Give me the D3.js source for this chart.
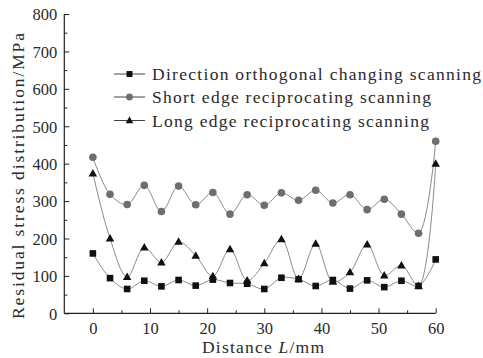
<!DOCTYPE html>
<html>
<head>
<meta charset="utf-8">
<script src="https://cdn.jsdelivr.net/npm/d3@7"></script>
<style>
html,body{margin:0;padding:0;background:#fff;}
svg{display:block;}
</style>
</head>
<body>
<svg id="chart" width="483" height="358" font-family="Liberation Serif"></svg>
<script>
const distance = [0,3,6,9,12,15,18,21,24,27,30,33,36,39,42,45,48,51,54,57,60];
const directionOrthogonal = [160,94,65,87,72,89,74,90,81,79,65,95,91,73,89,66,88,70,87,73,144];
const shortEdge = [417,318,291,342,272,340,290,323,265,317,289,322,302,329,295,317,277,305,265,214,460];
const longEdge = [374,200,97,176,136,191,154,99,171,88,134,198,92,186,84,110,184,101,128,73,400];
const seriesNames = ["Direction orthogonal changing scanning","Short edge reciprocating scanning","Long edge reciprocating scanning"];
const xTicks = [0,10,20,30,40,50,60];
const yTicks = [0,100,200,300,400,500,600,700,800];

const FONT = "Liberation Serif";
const TXT = "#2a2a2a";
const svg = d3.select("#chart");
const x = d3.scaleLinear().domain([-5,60]).range([64.3,435.7]);
const y = d3.scaleLinear().domain([0,800]).range([313.3,14]);

const lineColor = "#8a8a8a";
const series = [
  {name:seriesNames[1], values:shortEdge, shape:"circle", fill:"#6e6e6e"},
  {name:seriesNames[0], values:directionOrthogonal, shape:"square", fill:"#111"},
  {name:seriesNames[2], values:longEdge, shape:"triangle", fill:"#111"}
];

// axes
const xAxis = d3.axisBottom(x).tickValues(xTicks).tickSize(-5).tickPadding(9).tickFormat(d3.format("d"));
const xMinor = d3.axisBottom(x).tickValues([5,15,25,35,45,55]).tickSize(-3).tickFormat("");
const yAxis = d3.axisLeft(y).tickValues(yTicks).tickSize(-5).tickPadding(7).tickFormat(d3.format("d"));
const yMinor = d3.axisLeft(y).tickValues([50,150,250,350,450,550,650,750]).tickSize(-3).tickFormat("");

function styleAxis(g){
  g.attr("font-family",FONT).attr("font-size",16.5);
  g.select(".domain").attr("stroke","#222").attr("stroke-width",1.2);
  g.selectAll(".tick line").attr("stroke","#222").attr("stroke-width",1);
  g.selectAll(".tick text").attr("fill",TXT).attr("font-family",FONT).attr("font-size",16.5);
}
const gx = svg.append("g").attr("transform",`translate(0,${y(0)})`).call(xAxis);
gx.select(".domain").attr("d",`M${x(-5)},0H${x(60)}`);
styleAxis(gx);
const gxm = svg.append("g").attr("transform",`translate(0,${y(0)})`).call(xMinor);
gxm.select(".domain").remove();
styleAxis(gxm);
const gy = svg.append("g").attr("transform",`translate(${x(-5)},0)`).call(yAxis);
gy.select(".domain").attr("d",`M0,${y(800)}V${y(0)}`);
styleAxis(gy);
gy.selectAll(".tick text").attr("dy","0.35em");
const gym = svg.append("g").attr("transform",`translate(${x(-5)},0)`).call(yMinor);
gym.select(".domain").remove();
styleAxis(gym);

// titles
svg.append("text").attr("x",263).attr("y",353).attr("text-anchor","middle")
  .attr("textLength",122).attr("lengthAdjust","spacing")
  .attr("font-family",FONT).attr("font-size",17.5).attr("fill",TXT)
  .html('Distance <tspan font-style="italic">L</tspan>/mm');
svg.append("text").attr("transform","translate(24,176) rotate(-90)").attr("text-anchor","middle")
  .attr("textLength",286).attr("lengthAdjust","spacing")
  .attr("font-family",FONT).attr("font-size",17.5).attr("fill",TXT)
  .text("Residual stress distribution/MPa");

// lines
const line = d3.line().x((d,i)=>x(distance[i])).y(d=>y(d)).curve(d3.curveCatmullRom.alpha(0.5));
series.forEach(s=>{
  svg.append("path").attr("d",line(s.values)).attr("fill","none").attr("stroke",lineColor).attr("stroke-width",1);
});

function drawMarker(g, shape, cx, cy, fill, scale){
  scale = scale||1;
  if(shape==="circle"){
    g.append("circle").attr("cx",cx).attr("cy",cy).attr("r",3.8*scale).attr("fill",fill);
  } else if(shape==="square"){
    const s=6.6*scale;
    g.append("rect").attr("x",cx-s/2).attr("y",cy-s/2).attr("width",s).attr("height",s).attr("fill",fill);
  } else {
    const w=8.5*scale, h=7.5*scale;
    g.append("path").attr("d",`M${cx},${cy-h*0.6}L${cx+w/2},${cy+h*0.4}L${cx-w/2},${cy+h*0.4}Z`).attr("fill",fill);
  }
}
series.forEach(s=>{
  const g = svg.append("g");
  s.values.forEach((v,i)=>drawMarker(g,s.shape,x(distance[i]),y(v),s.fill));
});

// legend
const legendItems = [
  {name:seriesNames[0], shape:"square", fill:"#111", len:329},
  {name:seriesNames[1], shape:"circle", fill:"#6e6e6e", len:279},
  {name:seriesNames[2], shape:"triangle", fill:"#111", len:277}
];
const rowY = [74,97,120.5];
legendItems.forEach((it,i)=>{
  const g = svg.append("g");
  g.append("line").attr("x1",114).attr("x2",145).attr("y1",rowY[i]).attr("y2",rowY[i]).attr("stroke","#444").attr("stroke-width",1);
  drawMarker(g,it.shape,129.5,rowY[i],it.fill,0.9);
  g.append("text").attr("x",152).attr("y",rowY[i]+6).attr("textLength",it.len).attr("lengthAdjust","spacing")
    .attr("font-family",FONT).attr("font-size",17.5).attr("fill",TXT).text(it.name);
});
</script>
</body>
</html>
